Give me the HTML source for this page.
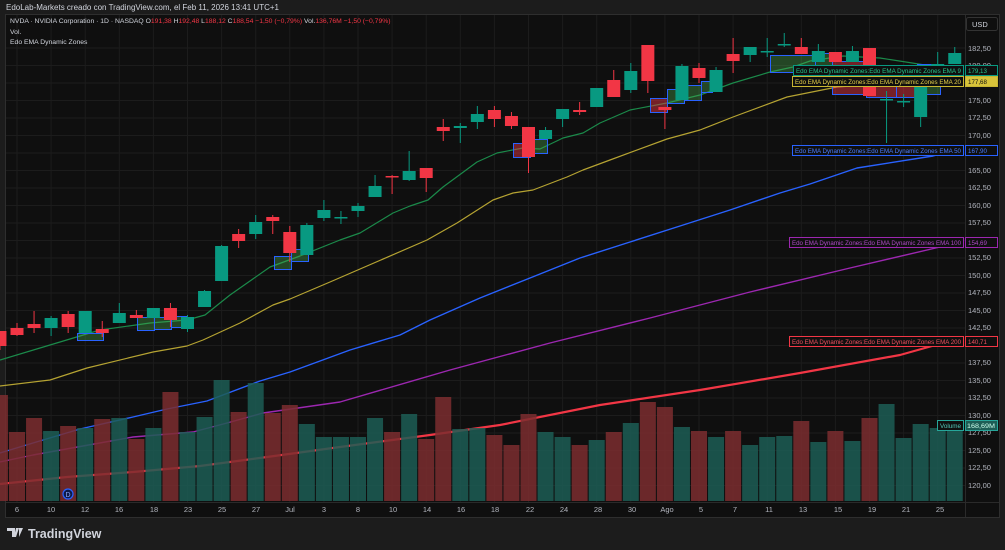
<!DOCTYPE html>
<html><head><meta charset="utf-8"><style>
html,body{margin:0;padding:0;background:#1c1c1c;width:1005px;height:550px;overflow:hidden;font-family:"Liberation Sans",sans-serif}
svg{position:absolute;left:0;top:0}
</style></head><body>
<svg id="s" width="1005" height="550" xmlns="http://www.w3.org/2000/svg" font-family="Liberation Sans, sans-serif">
<rect x="0" y="0" width="1005" height="550" fill="#1c1c1c"/>
<rect x="5.5" y="14.5" width="994" height="503" fill="#0f0f0f" stroke="#2e2e2e"/>
<line x1="965.5" y1="15" x2="965.5" y2="517" stroke="#2a2a2a"/>
<line x1="6" y1="502.5" x2="999" y2="502.5" stroke="#2a2a2a"/>
<g id="grid"></g>
<g id="ema" fill="none" stroke-linejoin="round">
<polyline stroke="#f23645" stroke-width="2.2" points="0,484 67,477 133,472 200,466 267,457 340,447 430,435 500,425 600,405 700,390 800,373 900,355 957,339"/>
<polyline stroke="#9c27b0" stroke-width="1.4" points="0,462 33,455 83,446 133,437 193,432 227,423 263,413 340,402 450,370 550,343 650,318 750,292 850,268 957,243"/>
<polyline stroke="#2962ff" stroke-width="1.4" points="0,453 33,443 80,429 133,417 167,409 207,401 260,381 290,372 350,350 400,335 430,320 480,298 530,278 580,258 630,242 680,226 730,210 780,193 810,184 857,168 933,156 957,150"/>
<polyline stroke="#b5a332" stroke-width="1.2" points="0,386 50,380 87,368 153,352 187,346 203,340 240,323 273,305 290,299 330,282 427,240 457,223 493,200 513,193 533,190 567,177 583,170 610,160 667,139 700,130 733,117 787,97 837,87 880,84 957,80"/>
<polyline stroke="#1b8a4a" stroke-width="1.2" points="0,360 50,345 100,330 150,323 187,320 205,315 230,295 270,267 300,256 340,240 360,233 393,213 410,206 428,200 443,187 477,162 497,153 523,148 540,149 563,138 583,133 600,123 630,110 667,103 700,95 733,83 770,72 793,67 810,61 843,56 880,58 957,70"/>
</g>
<g id="vol" opacity="0.85"></g>
<g id="zones"></g>
<g id="cdl"></g>
<circle cx="68" cy="494" r="5" fill="#0c1a4a" stroke="#2962ff" stroke-width="1.2"/>
<text x="68" y="497" font-size="7" fill="#8fa8ff" text-anchor="middle">D</text>
<g font-size="7.5" fill="#b2b5be" text-anchor="middle">
<text x="17" y="512">6</text><text x="51" y="512">10</text><text x="85" y="512">12</text><text x="119" y="512">16</text><text x="154" y="512">18</text><text x="188" y="512">23</text><text x="222" y="512">25</text><text x="256" y="512">27</text><text x="290" y="512">Jul</text><text x="324" y="512">3</text><text x="358" y="512">8</text><text x="393" y="512">10</text><text x="427" y="512">14</text><text x="461" y="512">16</text><text x="495" y="512">18</text><text x="530" y="512">22</text><text x="564" y="512">24</text><text x="598" y="512">28</text><text x="632" y="512">30</text><text x="667" y="512">Ago</text><text x="701" y="512">5</text><text x="735" y="512">7</text><text x="769" y="512">11</text><text x="803" y="512">13</text><text x="838" y="512">15</text><text x="872" y="512">19</text><text x="906" y="512">21</text><text x="940" y="512">25</text>
</g>
<g font-size="7.5" fill="#b2b5be">
<text x="968" y="51">182,50</text><text x="968" y="68">180,00</text><text x="968" y="103">175,00</text><text x="968" y="120">172,50</text><text x="968" y="138">170,00</text><text x="968" y="173">165,00</text><text x="968" y="190">162,50</text><text x="968" y="208">160,00</text><text x="968" y="225">157,50</text><text x="968" y="260">152,50</text><text x="968" y="278">150,00</text><text x="968" y="295">147,50</text><text x="968" y="313">145,00</text><text x="968" y="330">142,50</text><text x="968" y="365">137,50</text><text x="968" y="383">135,00</text><text x="968" y="400">132,50</text><text x="968" y="418">130,00</text><text x="968" y="435">127,50</text><text x="968" y="453">125,00</text><text x="968" y="470">122,50</text><text x="968" y="488">120,00</text>
</g>
<rect x="966.5" y="17.5" width="31" height="13" rx="2" fill="#0f0f0f" stroke="#333"/>
<text x="972" y="27" font-size="7.5" fill="#d1d4dc">USD</text>
<g font-size="6.2">
<rect x="793.5" y="65.5" width="170" height="10" fill="#0f0f0f" stroke="#089981"/><text x="796" y="73" fill="#22c58b" textLength="165" lengthAdjust="spacingAndGlyphs">Edo EMA Dynamic Zones:Edo EMA Dynamic Zones EMA 9</text>
<rect x="965.5" y="65.5" width="32" height="10" fill="#0f0f0f" stroke="#089981"/><text x="968" y="73" fill="#22c58b">179,13</text>
<rect x="792.5" y="76.5" width="171" height="10" fill="#0f0f0f" stroke="#c9b632"/><text x="795" y="84" fill="#e6d14a" textLength="166" lengthAdjust="spacingAndGlyphs">Edo EMA Dynamic Zones:Edo EMA Dynamic Zones EMA 20</text>
<rect x="965.5" y="76.5" width="32" height="10" fill="#d8c33a" stroke="#c9b632"/><text x="968" y="84" fill="#111">177,68</text>
<rect x="792.5" y="145.5" width="171" height="10" fill="#0f0f0f" stroke="#2962ff"/><text x="795" y="153" fill="#4a7dff" textLength="166" lengthAdjust="spacingAndGlyphs">Edo EMA Dynamic Zones:Edo EMA Dynamic Zones EMA 50</text>
<rect x="965.5" y="145.5" width="32" height="10" fill="#0f0f0f" stroke="#2962ff"/><text x="968" y="153" fill="#4a7dff">167,90</text>
<rect x="789.5" y="237.5" width="174" height="10" fill="#0f0f0f" stroke="#9c27b0"/><text x="792" y="245" fill="#b04ac8" textLength="169" lengthAdjust="spacingAndGlyphs">Edo EMA Dynamic Zones:Edo EMA Dynamic Zones EMA 100</text>
<rect x="965.5" y="237.5" width="32" height="10" fill="#0f0f0f" stroke="#9c27b0"/><text x="968" y="245" fill="#b04ac8">154,69</text>
<rect x="789.5" y="336.5" width="174" height="10" fill="#0f0f0f" stroke="#f23645"/><text x="792" y="344" fill="#f25060" textLength="169" lengthAdjust="spacingAndGlyphs">Edo EMA Dynamic Zones:Edo EMA Dynamic Zones EMA 200</text>
<rect x="965.5" y="336.5" width="32" height="10" fill="#0f0f0f" stroke="#f23645"/><text x="968" y="344" fill="#f25060">140,71</text>
<rect x="937.5" y="420.5" width="26" height="10" fill="#0f0f0f" stroke="#26a69a"/><text x="940" y="428" fill="#4fc7b8" textLength="21" lengthAdjust="spacingAndGlyphs">Volume</text>
<rect x="965.5" y="420.5" width="32" height="10" fill="#1d5d55" stroke="#26a69a"/><text x="967" y="428" fill="#cfe" textLength="28" lengthAdjust="spacingAndGlyphs">168,69M</text>
</g>
<text x="6" y="10" font-size="8" fill="#d1d4dc">EdoLab-Markets creado con TradingView.com, el Feb 11, 2026 13:41 UTC+1</text>
<g font-size="6.8" fill="#d1d4dc">
<text x="10" y="23">NVDA · NVIDIA Corporation · 1D · NASDAQ  O<tspan fill="#f23645">191,38</tspan>  H<tspan fill="#f23645">192,48</tspan>  L<tspan fill="#f23645">188,12</tspan>  C<tspan fill="#f23645">188,54  −1,50 (−0,79%)</tspan>  Vol.<tspan fill="#f23645">136,76M  −1,50 (−0,79%)</tspan></text>
<text x="10" y="34">Vol.</text>
<text x="10" y="44">Edo EMA Dynamic Zones</text>
</g>
<g transform="translate(7,528)" fill="#d1d4dc">
<path d="M0 0h8v9h-3v-6h-5z M9 0h3l-3 9h-2z M12 0h4l-4 9z" />
<text x="21" y="10" font-size="12.5" font-weight="bold">TradingView</text>
</g>
</svg>
<script>
var NS="http://www.w3.org/2000/svg";
function el(p,t,a){var e=document.createElementNS(NS,t);for(var k in a)e.setAttribute(k,a[k]);document.getElementById(p).appendChild(e);return e;}
for(var y=48;y<500;y+=17.5)el("grid","line",{x1:6,x2:965,y1:y,y2:y,stroke:"#1c1c1c","stroke-width":1});
for(var i=0;i<28;i++){var x=17+34.1*i;el("grid","line",{x1:x,x2:x,y1:15,y2:502,stroke:"#1c1c1c","stroke-width":1});}
var C=[
[-1,0,331,346,331,350],[0,0,328,335,323,336],[1,0,324,328,311,333],[2,1,318,328,316,336],[3,0,314,327,311,333],[4,1,311,333,311,333],[5,0,329,333,321,337],[6,1,313,323,303,323],[7,0,315,318,310,318],[8,1,308,318,308,318],[9,0,308,320,303,327],[10,1,317,329,315,332],[11,1,291,307,290,307],[12,1,246,281,245,281],[13,0,234,241,229,248],[14,1,222,234,215,239],[15,0,217,221,215,234],[16,0,232,253,226,262],[17,1,225,255,223,255],[18,1,210,218,200,221],[19,1,217,218,211,224],[20,1,206,211,203,217],[21,1,186,197,175,197],[22,0,176,177,175,194],[23,1,171,180,151,181],[24,0,168,178,168,192],[25,0,127,131,119,141],[26,1,126,128,123,143],[27,1,114,122,106,129],[28,0,110,119,106,127],[29,0,116,126,112,129],[30,0,127,157,127,173],[31,1,130,139,127,139],[32,1,109,119,109,127],[33,0,110,112,102,115],[34,1,88,107,88,107],[35,0,80,97,70,97],[36,1,71,90,63,93],[37,0,45,81,45,93],[38,0,107,110,107,129],[39,1,66,100,64,100],[40,0,68,78,63,83],[41,1,70,92,67,92],[42,0,54,61,38,73],[43,1,47,55,47,62],[44,1,51,52,38,57],[45,1,44,45,33,47],[46,0,47,54,38,54],[47,1,51,62,44,62],[48,0,52,62,52,62],[49,1,51,62,46,62],[50,0,48,96,48,96],[51,1,99,100,91,143],[52,1,101,102,94,107],[53,1,76,117,76,127],[54,1,64,66,52,66],[55,1,53,64,47,64]];
var V=[395,432,418,431,426,428,419,418,439,428,392,432,417,380,412,383,413,405,424,437,437,437,418,432,414,439,397,429,428,435,445,414,432,437,445,440,432,423,402,407,427,431,437,431,445,437,436,421,442,431,441,418,404,438,424,428,429];
var Z=[[77,103,333,340,1],[137,154,317,330,1],[154,171,317,329,1],[171,187,316,327,1],[274,291,256,269,1],[291,308,249,261,1],[513,530,143,157,0],[530,547,139,153,1],[650,667,98,112,0],[667,684,89,103,1],[684,701,85,100,1],[701,712,81,92,1],[770,815,55,72,1],[815,832,53,70,1],[832,866,61,94,0],[866,896,77,97,0],[896,917,77,97,0],[917,940,64,94,1]];
for(var k=0;k<C.length;k++){var c=C[k],x=17+17.05*c[0];
 el("vol","rect",{x:x-8,y:V[k],width:16,height:501-V[k],fill:c[1]?"#1d5d55":"#7c2d2f"});}
Z.forEach(function(z){el("zones","rect",{x:z[0]+.5,y:z[2]+.5,width:z[1]-z[0],height:z[3]-z[2],fill:z[4]?"rgba(76,175,80,0.35)":"rgba(242,54,69,0.45)",stroke:"#2962ff","stroke-width":1});});
C.forEach(function(c){var x=17+17.05*c[0],col=c[1]?"#089981":"#f23645";
 el("cdl","line",{x1:x,x2:x,y1:c[4],y2:c[5],stroke:col,"stroke-width":1});
 el("cdl","rect",{x:x-6.5,y:c[2],width:13,height:Math.max(1.5,c[3]-c[2]),fill:col});});
</script>
</body></html>
